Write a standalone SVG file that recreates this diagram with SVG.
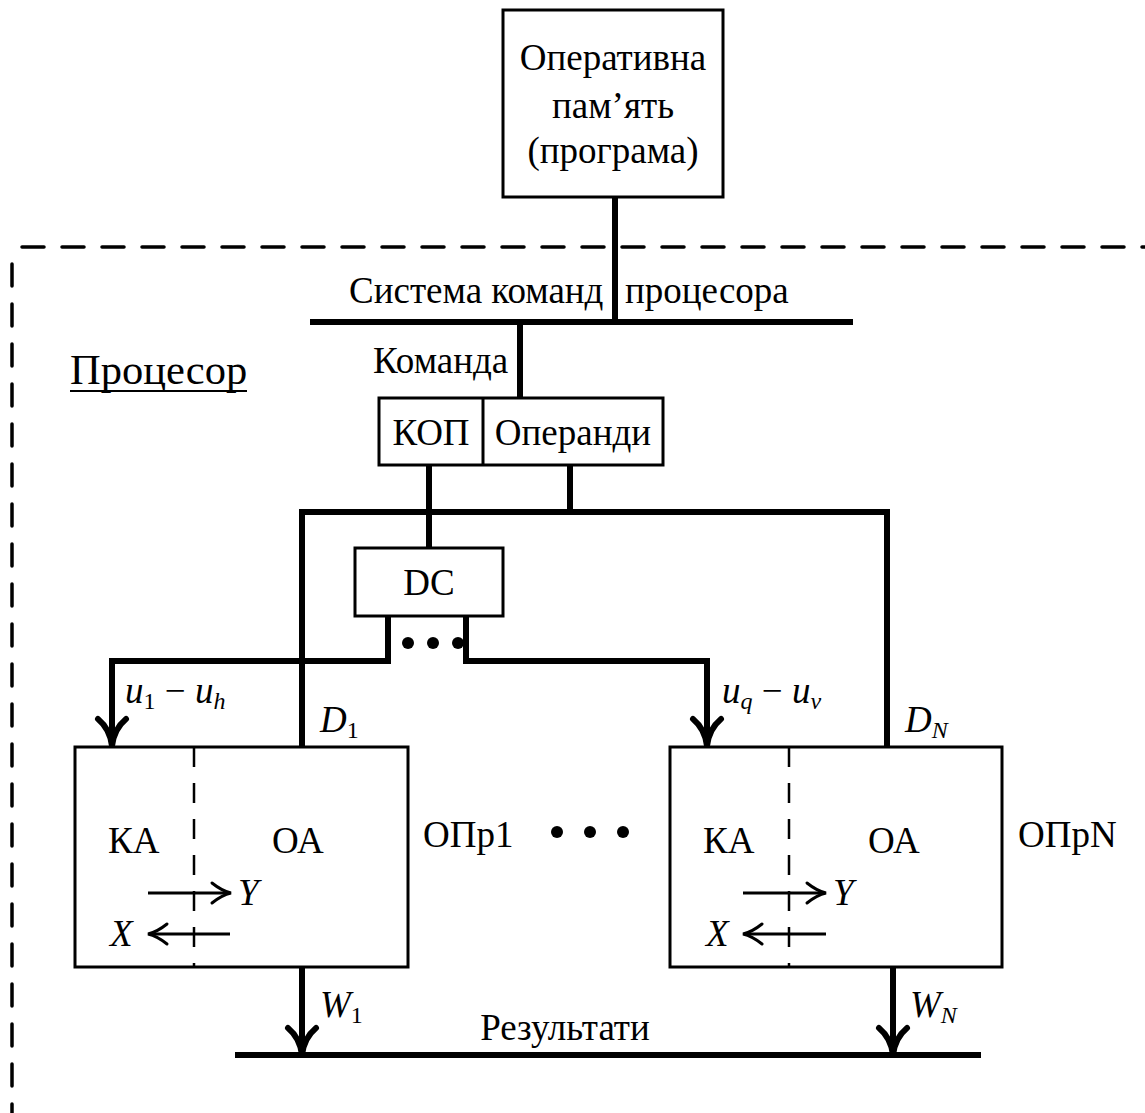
<svg xmlns="http://www.w3.org/2000/svg" width="1145" height="1113" viewBox="0 0 1145 1113" font-family="Liberation Serif, serif">
<style>
.t{font-size:37px}
.i{font-style:italic}
.box{fill:#fff;stroke:#000;stroke-width:3}
.w{fill:none;stroke:#000;stroke-width:6;stroke-linecap:square}
.thin{fill:none;stroke:#000;stroke-width:3}
.dash{fill:none;stroke:#000;stroke-width:3.5;stroke-dasharray:22 18;stroke-linecap:round}
.idash{fill:none;stroke:#000;stroke-width:2.5;stroke-dasharray:20 16}
.ah{fill:none;stroke:#000;stroke-width:6;stroke-linecap:round;stroke-linejoin:round}
.ahs{fill:none;stroke:#000;stroke-width:3;stroke-linecap:round}
</style>
<rect width="1145" height="1113" fill="#fff"/>
<g id="processor-border">
<line class="dash" x1="22" y1="247" x2="1150" y2="247"/>
<line class="dash" x1="12" y1="264" x2="12" y2="1120"/>
<text x="70" y="384" font-family="Liberation Serif" font-size="42.5">Процесор</text>
<line x1="70" y1="391" x2="247" y2="391" stroke="#000" stroke-width="2"/>
</g>
<g id="connectors">
<line class="w" x1="615" y1="197" x2="615" y2="322"/>
<line class="w" x1="313" y1="322" x2="850" y2="322"/>
<line class="w" x1="520" y1="322" x2="520" y2="398"/>
<line class="w" x1="429" y1="465" x2="429" y2="548"/>
<line class="w" x1="570" y1="465" x2="570" y2="512"/>
<polyline class="w" points="302,745 302,512 887,512 887,745"/>
<polyline class="w" points="388,616 388,661 112,661 112,740"/>
<polyline class="w" points="466,616 466,661 707,661 707,740"/>
<path class="ah" d="M98,719 Q110,729 112,746 Q114,729 126,719"/>
<path class="ah" d="M693,719 Q705,729 707,746 Q709,729 721,719"/>
<line class="w" x1="302" y1="967" x2="302" y2="1050"/>
<line class="w" x1="893" y1="967" x2="893" y2="1050"/>
<path class="ah" d="M288,1028 Q300,1038 302,1055 Q304,1038 316,1028"/>
<path class="ah" d="M879,1028 Q891,1038 893,1055 Q895,1038 907,1028"/>
<line class="w" x1="238" y1="1055" x2="978" y2="1055"/>
<circle cx="408" cy="643" r="6"/>
<circle cx="433" cy="643" r="6"/>
<circle cx="458" cy="643" r="6"/>
<circle cx="557" cy="832" r="6"/>
<circle cx="590" cy="832" r="6"/>
<circle cx="623" cy="832" r="6"/>
</g>
<g id="labels" font-family="Liberation Serif">
<text class="t"><tspan x="349" y="303">Система команд</tspan><tspan x="625" y="303">процесора</tspan></text>
<text class="t" x="373" y="373">Команда</text>
<text class="t" x="125" y="703"><tspan class="i">u</tspan><tspan font-size="24" dy="6">1</tspan><tspan dy="-6"> − </tspan><tspan class="i">u</tspan><tspan class="i" font-size="24" dy="6">h</tspan></text>
<text class="t" x="320" y="732"><tspan class="i">D</tspan><tspan font-size="24" dy="6">1</tspan></text>
<text class="t" x="722" y="703"><tspan class="i">u</tspan><tspan class="i" font-size="24" dy="6">q</tspan><tspan dy="-6"> − </tspan><tspan class="i">u</tspan><tspan class="i" font-size="24" dy="6">v</tspan></text>
<text class="t" x="905" y="732"><tspan class="i">D</tspan><tspan class="i" font-size="24" dy="6">N</tspan></text>
<text class="t" x="320" y="1017"><tspan class="i">W</tspan><tspan font-size="24" dy="6">1</tspan></text>
<text class="t" x="910" y="1017"><tspan class="i">W</tspan><tspan class="i" font-size="24" dy="6">N</tspan></text>
<text class="t" x="565" y="1040" text-anchor="middle">Результати</text>
</g>
<g id="memory" font-family="Liberation Serif">
<rect class="box" x="503" y="10" width="220" height="187"/>
<text class="t" x="613" y="70" text-anchor="middle">Оперативна</text>
<text class="t" x="613" y="118" text-anchor="middle">пам’ять</text>
<text class="t" x="613" y="163" text-anchor="middle">(програма)</text>
</g>
<g id="instruction" font-family="Liberation Serif">
<rect class="box" x="379" y="398" width="284" height="67"/>
<line class="thin" x1="483" y1="398" x2="483" y2="465"/>
<text class="t" x="431" y="445" text-anchor="middle">КОП</text>
<text class="t" x="573" y="445" text-anchor="middle">Операнди</text>
</g>
<g id="dc" font-family="Liberation Serif">
<rect class="box" x="355" y="548" width="148" height="68"/>
<text class="t" x="429" y="595" text-anchor="middle">DC</text>
</g>
<g id="opr1" font-family="Liberation Serif">
<rect class="box" x="75" y="747" width="333" height="220"/>
<line class="idash" x1="194" y1="747" x2="194" y2="967"/>
<text class="t" x="108" y="853">КА</text>
<text class="t" x="272" y="853">ОА</text>
<line class="thin" x1="148" y1="893" x2="230" y2="893"/>
<path class="ahs" d="M212,883 Q222,891 231,893 Q222,895 212,903"/>
<text class="t i" x="238" y="905">Y</text>
<line class="thin" x1="230" y1="934" x2="149" y2="934"/>
<path class="ahs" d="M167,924 Q157,932 148,934 Q157,936 167,944"/>
<text class="t i" x="110" y="946">X</text>
<text class="t" x="423" y="847">ОПр1</text>
</g>
<g id="oprN" font-family="Liberation Serif">
<rect class="box" x="670" y="747" width="332" height="220"/>
<line class="idash" x1="789" y1="747" x2="789" y2="967"/>
<text class="t" x="703" y="853">КА</text>
<text class="t" x="868" y="853">ОА</text>
<line class="thin" x1="743" y1="893" x2="825" y2="893"/>
<path class="ahs" d="M807,883 Q817,891 826,893 Q817,895 807,903"/>
<text class="t i" x="833" y="905">Y</text>
<line class="thin" x1="826" y1="934" x2="744" y2="934"/>
<path class="ahs" d="M762,924 Q752,932 743,934 Q752,936 762,944"/>
<text class="t i" x="706" y="946">X</text>
<text class="t" x="1018" y="847">ОПрN</text>
</g>
</svg>
